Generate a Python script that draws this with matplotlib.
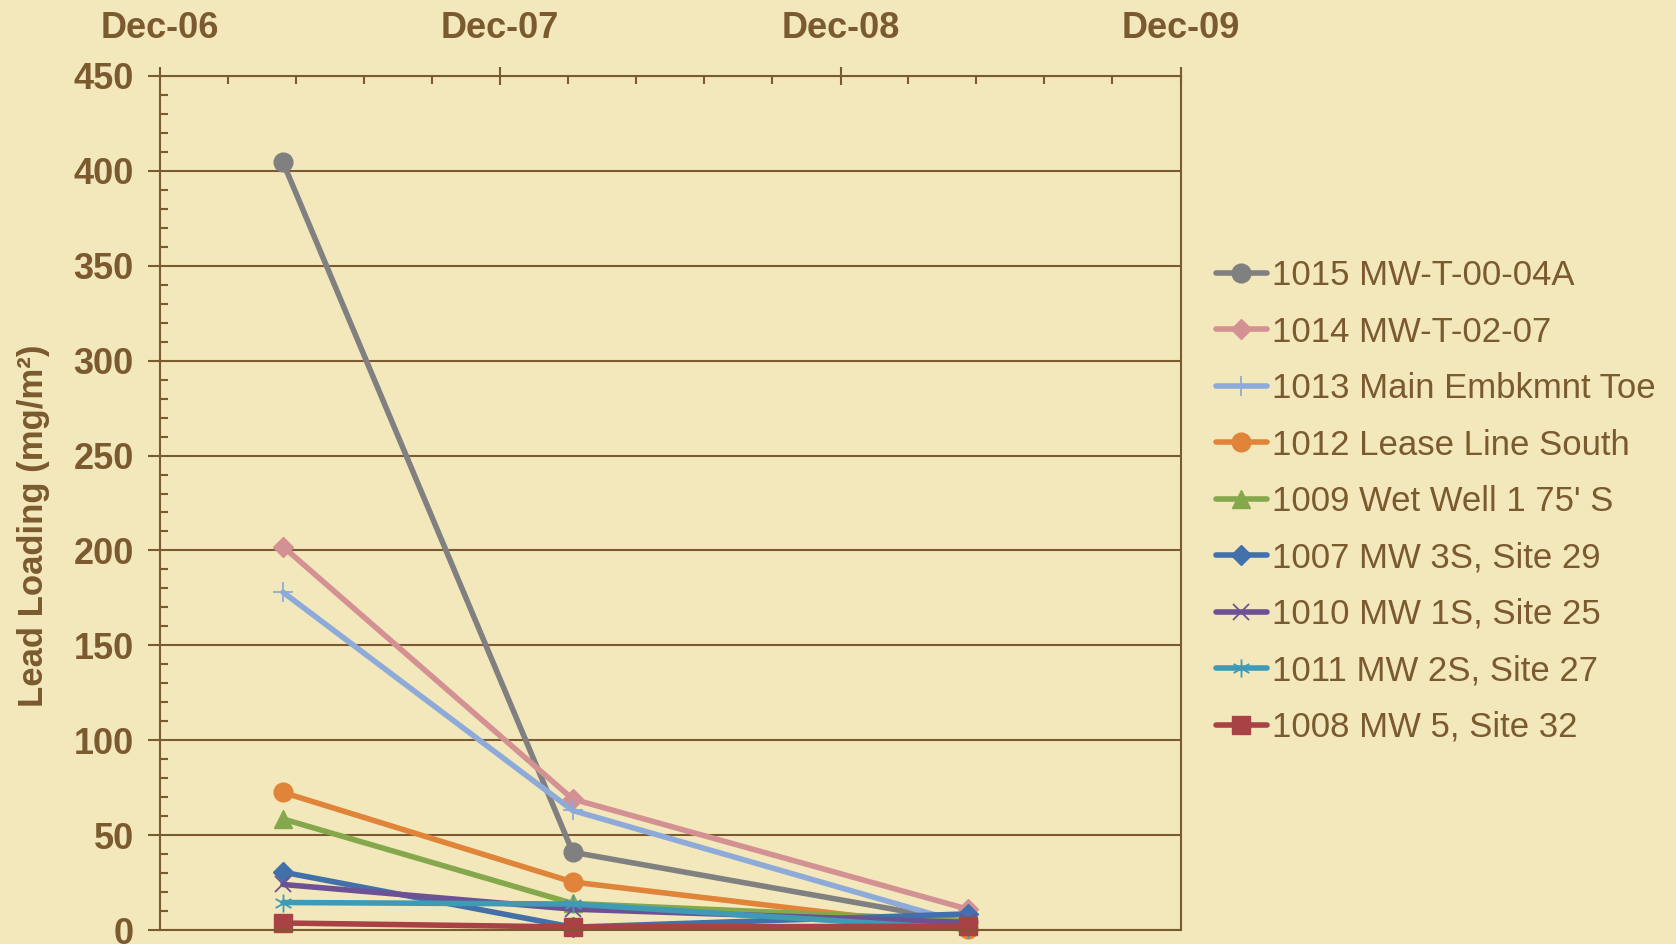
import datetime as dt
import matplotlib
matplotlib.use("Agg")
import matplotlib.pyplot as plt
import matplotlib.dates as mdates
from matplotlib.path import Path
from matplotlib.ticker import MultipleLocator, FixedLocator

# Sampling dates
dates = [dt.date(2007, 4, 12), dt.date(2008, 2, 17), dt.date(2009, 4, 16)]

# Lead loading (mg/m2) per station
s1015 = [404.5, 41.0, 4.0]
s1014 = [202.0, 69.0, 11.0]
s1013 = [178.0, 63.0, 3.0]
s1012 = [72.5, 25.3, 0.5]
s1009 = [58.5, 14.0, 5.0]
s1007 = [30.5, 1.5, 8.5]
s1010 = [24.0, 11.0, 4.0]
s1011 = [14.5, 13.7, 0.5]
s1008 = [3.7, 1.6, 2.0]

labels = ["1015 MW-T-00-04A", "1014 MW-T-02-07", "1013 Main Embkmnt Toe",
          "1012 Lease Line South", "1009 Wet Well 1 75' S", "1007 MW 3S, Site 29",
          "1010 MW 1S, Site 25", "1011 MW 2S, Site 27", "1008 MW 5, Site 32"]
series = [s1015, s1014, s1013, s1012, s1009, s1007, s1010, s1011, s1008]

x_ticks = [dt.date(2006, 12, 1), dt.date(2007, 12, 1), dt.date(2008, 12, 1), dt.date(2009, 12, 1)]

BG = "#f3e8bc"
BROWN = "#7a5a2e"

# asterisk marker: x plus a vertical bar
star_path = Path(
    [(-0.87, -0.5), (0.87, 0.5), (-0.87, 0.5), (0.87, -0.5), (0, -1), (0, 1)],
    [Path.MOVETO, Path.LINETO, Path.MOVETO, Path.LINETO, Path.MOVETO, Path.LINETO])

styles = [
    dict(color="#808080", marker="o", ms=13.5),
    dict(color="#d39193", marker="D", ms=10.5),
    dict(color="#8eaad8", marker="+", ms=14, mew=1.3),
    dict(color="#e0843a", marker="o", ms=13.5),
    dict(color="#86a84c", marker="^", ms=13.5),
    dict(color="#4170aa", marker="D", ms=10.5),
    dict(color="#6c5294", marker="x", ms=11, mew=1.3),
    dict(color="#3f9ab5", marker=star_path, ms=13, mew=1.3, mfc="none"),
    dict(color="#a84244", marker="s", ms=13),
]

plt.rcParams["font.family"] = ["Liberation Sans", "DejaVu Sans"]

fig = plt.figure(figsize=(16.76, 9.44), dpi=100, facecolor=BG)
ax = fig.add_axes([0.0955, 0.0148, 0.6092, 0.9047], facecolor=BG)

for vals, lab, st in zip(series, labels, styles):
    st = dict(st)
    color = st.pop("color")
    ax.plot(dates, vals, label=lab, color=color, lw=4.0, mec=color,
            mfc=st.pop("mfc", color), clip_on=False, solid_capstyle="round", **st)

ax.set_ylim(0, 450)
ax.set_xlim(x_ticks[0], x_ticks[-1])
ax.yaxis.set_major_locator(MultipleLocator(50))
ax.yaxis.set_minor_locator(MultipleLocator(10))
ax.grid(axis="y", which="major", color=BROWN, lw=1.5, zorder=0)
ax.set_axisbelow(True)

ax.xaxis.set_major_locator(FixedLocator(mdates.date2num(x_ticks)))
start = mdates.date2num(x_ticks[0])
ax.xaxis.set_minor_locator(FixedLocator([start + 73 * k for k in range(1, 15) if k % 5]))
ax.xaxis.set_major_formatter(mdates.DateFormatter("%b-%y"))
ax.xaxis.tick_top()

for sp in ax.spines.values():
    sp.set_color(BROWN)
    sp.set_linewidth(1.5)

ax.tick_params(axis="x", which="major", direction="inout", length=13, width=1.5,
               color=BROWN, pad=15, labelsize=26, labelcolor=BROWN)
ax.tick_params(axis="x", which="minor", direction="in", length=6, width=1.5, color=BROWN)
ax.tick_params(axis="y", which="major", direction="out", length=9, width=1.5,
               color=BROWN, pad=10, labelsize=26, labelcolor=BROWN)
ax.tick_params(axis="y", which="minor", direction="in", length=6, width=1.5, color=BROWN)
for t in ax.get_xticklabels() + ax.get_yticklabels():
    t.set_fontweight("bold")

fig.text(0.02, 0.443, "Lead Loading (mg/m²)", rotation=90, ha="center", va="center",
         fontsize=25, fontweight="bold", color=BROWN)

leg = fig.legend(loc="center left", bbox_to_anchor=(0.7255, 0.4688), frameon=False,
                 fontsize=25, labelcolor=BROWN, handlelength=1.47, handletextpad=0.15,
                 labelspacing=0.675, borderpad=0, borderaxespad=0)

fig.savefig("out.png", dpi=100, facecolor=BG)
